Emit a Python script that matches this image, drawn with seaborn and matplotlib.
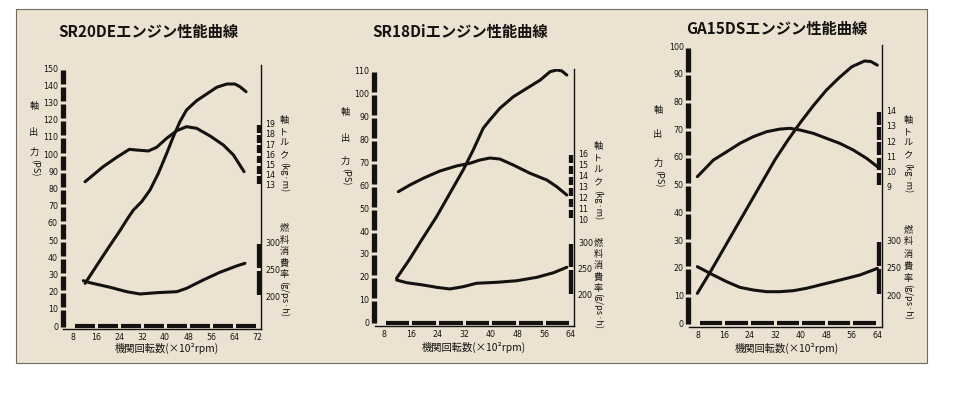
import matplotlib
matplotlib.use("Agg")
import matplotlib.pyplot as plt
from matplotlib import font_manager as fm
from matplotlib.patches import Rectangle
import pandas as pd
import seaborn as sns

# ---------------- data ----------------
titles = ["SR20DEエンジン性能曲線", "SR18Diエンジン性能曲線", "GA15DSエンジン性能曲線"]
x_label = "機関回転数(×10²rpm)"
left_label_chars = ["軸", "出", "力"]
left_label_unit = "(PS)"
torque_label_chars = ["軸", "ト", "ル", "ク"]
torque_label_unit = "(kg·m)"
fuel_label_chars = ["燃", "料", "消", "費", "率"]
fuel_label_unit = "(g/ps·h)"

# SR20DE
sr20_power_rpm = [12.2, 16.0, 20.0, 24.0, 27.0, 29.0, 31.9, 34.8, 37.7, 40.6, 42.9, 45.2, 47.5, 51.0, 54.5, 58.0, 61.5, 64.3, 66.1, 68.2]
sr20_power_ps = [24.8, 34.5, 44.7, 54.6, 62.5, 67.4, 72.3, 79.1, 88.8, 100.4, 110.1, 118.8, 125.6, 131.0, 134.9, 138.8, 140.7, 140.7, 139.1, 136.2]
sr20_torque_rpm = [12.2, 18.5, 23.2, 27.6, 30.2, 34.2, 37.1, 40.6, 44.1, 47.5, 51.0, 55.7, 60.3, 63.8, 67.5]
sr20_torque_kgm = [13.32, 14.79, 15.70, 16.48, 16.41, 16.32, 16.68, 17.56, 18.30, 18.69, 18.53, 17.78, 16.90, 15.93, 14.30]
sr20_fuel_rpm = [11.6, 13.9, 20.9, 26.7, 31.3, 37.1, 44.1, 47.5, 53.3, 59.1, 64.9, 67.8]
sr20_fuel_gpsh = [229.0, 225.3, 216.9, 208.8, 204.6, 207.0, 208.8, 215.0, 230.3, 244.4, 256.0, 260.9]
sr20_rpm_ticks = [8, 16, 24, 32, 40, 48, 56, 64, 72]
sr20_ps_ticks = list(range(0, 151, 10))
sr20_torque_ticks = [13, 14, 15, 16, 17, 18, 19]

# SR18Di
sr18_power_rpm = [11.7, 15.5, 19.2, 23.7, 27.7, 31.7, 34.7, 37.7, 39.7, 42.7, 46.7, 50.8, 54.8, 57.8, 59.8, 61.3, 62.8]
sr18_power_ps = [19.4, 27.5, 36.1, 46.3, 56.5, 66.7, 75.4, 84.9, 88.5, 93.6, 98.6, 102.3, 105.9, 109.6, 110.3, 109.9, 108.1]
sr18_torque_rpm = [12.2, 15.7, 19.7, 24.7, 29.7, 33.7, 36.7, 39.7, 42.7, 46.7, 51.8, 56.8, 59.8, 62.8]
sr18_torque_kgm = [12.51, 13.12, 13.73, 14.39, 14.85, 15.09, 15.39, 15.57, 15.48, 14.94, 14.18, 13.57, 12.96, 12.21]
sr18_fuel_rpm = [11.7, 14.7, 19.7, 23.7, 27.7, 31.7, 35.7, 41.8, 47.8, 53.8, 58.8, 62.8]
sr18_fuel_gpsh = [228.7, 223.5, 219.1, 214.7, 211.5, 215.9, 222.4, 224.3, 227.3, 233.8, 242.6, 253.0]
sr18_rpm_ticks = [8, 16, 24, 32, 40, 48, 56, 64]
sr18_ps_ticks = list(range(0, 111, 10))
sr18_torque_ticks = [10, 11, 12, 13, 14, 15, 16]

# GA15DS
ga15_power_rpm = [7.7, 12.0, 16.0, 20.0, 24.0, 28.0, 32.0, 36.0, 40.0, 44.0, 48.0, 52.0, 56.0, 60.0, 62.0, 64.0]
ga15_power_ps = [10.8, 19.0, 27.0, 35.0, 43.0, 51.0, 59.0, 66.0, 72.5, 78.5, 84.0, 88.5, 92.5, 94.6, 94.4, 93.1]
ga15_torque_rpm = [7.7, 12.7, 16.9, 21.0, 25.2, 29.4, 33.5, 36.7, 39.8, 44.0, 48.1, 52.3, 56.5, 60.7, 64.0]
ga15_torque_kgm = [9.66, 10.75, 11.30, 11.85, 12.29, 12.62, 12.79, 12.84, 12.73, 12.51, 12.18, 11.85, 11.41, 10.86, 10.32]
ga15_fuel_rpm = [7.7, 12.7, 16.9, 21.0, 25.2, 29.4, 33.5, 37.7, 41.8, 46.0, 50.2, 54.4, 58.5, 62.7, 64.0]
ga15_fuel_gpsh = [252.1, 237.1, 225.1, 215.0, 210.2, 207.2, 207.2, 209.0, 213.2, 219.2, 225.1, 231.1, 237.1, 246.1, 249.1]
ga15_rpm_ticks = [8, 16, 24, 32, 40, 48, 56, 64]
ga15_ps_ticks = list(range(0, 101, 10))
ga15_torque_ticks = [9, 10, 11, 12, 13, 14]

fuel_ticks = [200, 250, 300]

panels_data = [
    dict(title=titles[0], p=(sr20_power_rpm, sr20_power_ps), t=(sr20_torque_rpm, sr20_torque_kgm),
         f=(sr20_fuel_rpm, sr20_fuel_gpsh), xt=sr20_rpm_ticks, pt=sr20_ps_ticks, tt=sr20_torque_ticks),
    dict(title=titles[1], p=(sr18_power_rpm, sr18_power_ps), t=(sr18_torque_rpm, sr18_torque_kgm),
         f=(sr18_fuel_rpm, sr18_fuel_gpsh), xt=sr18_rpm_ticks, pt=sr18_ps_ticks, tt=sr18_torque_ticks),
    dict(title=titles[2], p=(ga15_power_rpm, ga15_power_ps), t=(ga15_torque_rpm, ga15_torque_kgm),
         f=(ga15_fuel_rpm, ga15_fuel_gpsh), xt=ga15_rpm_ticks, pt=ga15_ps_ticks, tt=ga15_torque_ticks),
]

# ---------------- layout (pixels) ----------------
W, H = 960, 399
layouts = [
    dict(box=(63, 65, 261, 328.5), xa=((8, 73), (72, 257)), pa=((0, 326), (150, 68)),
         ta=((13, 185), (19, 123.5)), fa=((200, 296.5), (300, 242)),
         title_xy=(148, 32), xlabel_xy=(167, 348),
         lx=34, ly=[107, 133, 152], lu=168,
         rx=284, tly=[120, 131.7, 143.3, 154.5], tlu=177, fly=[228, 240, 251.7, 263.3, 275], flu=299),
    dict(box=(374.5, 69, 573.5, 325.5), xa=((8, 384.3), (64, 570.8)), pa=((0, 322.7), (110, 70.7)),
         ta=((10, 219.3), (16, 153.3)), fa=((200, 295), (300, 242.7)),
         title_xy=(460, 32), xlabel_xy=(474, 347),
         lx=345, ly=[113, 138, 161], lu=177,
         rx=598, tly=[146, 158, 170, 182], tlu=205, fly=[242.3, 254, 265.7, 277, 288.3], flu=311),
    dict(box=(688.7, 45, 881.7, 327), xa=((8, 698.3), (64, 877.3)), pa=((0, 323.3), (100, 46)),
         ta=((9, 186.7), (14, 110.7)), fa=((200, 295.7), (300, 240)),
         title_xy=(777, 29), xlabel_xy=(787, 348),
         lx=658, ly=[110, 134, 163], lu=179,
         rx=908, tly=[120, 131.7, 143.3, 155], tlu=178, fly=[230, 241.7, 255, 266.7, 278.3], flu=302),
]

INK = "#141210"
BEIGE = "#ECE2D1"

sns.set_theme(style="white")
JP = ["Noto Sans CJK JP", "DejaVu Sans"]

# narrow face for the numerals, if one is installed
_fonts = fm.fontManager.ttflist
_names = {f.name for f in _fonts}
if "Liberation Sans Narrow" in _names:
    NUM, NUM_STRETCH, NUM_SIZE = ["Liberation Sans Narrow"], "normal", 6.9
elif any(f.name == "DejaVu Sans" and str(f.stretch) in ("condensed", "semi-condensed") for f in _fonts):
    NUM, NUM_STRETCH, NUM_SIZE = ["DejaVu Sans"], "condensed", 6.3
else:
    NUM, NUM_STRETCH, NUM_SIZE = ["Liberation Sans", "DejaVu Sans"], "normal", 6.2
plt.rcParams["font.family"] = NUM + ["DejaVu Sans"]

fig = plt.figure(figsize=(W / 100, H / 100), dpi=100)
fig.patch.set_facecolor("white")
bg = Rectangle((16 / W, 1 - 363 / H), (927 - 16) / W, (363 - 9) / H,
               transform=fig.transFigure, facecolor=BEIGE,
               edgecolor="#6f6a62", linewidth=0.8, zorder=-10)
fig.patches.append(bg)


def lim(anchor, pa, pb):
    (v0, p0), (v1, p1) = anchor
    k = (v1 - v0) / (p1 - p0)
    return (v0 + (pa - p0) * k, v0 + (pb - p0) * k)


def fx(x):
    return x / W


def fy(y):
    return 1 - y / H


for d, L in zip(panels_data, layouts):
    l, t, r, b = L["box"]
    ax = fig.add_axes([l / W, 1 - b / H, (r - l) / W, (b - t) / H])
    ax.set_zorder(1)
    ax.set_facecolor("none")
    xl = lim(L["xa"], l, r)
    yl = lim(L["pa"], b, t)
    ax.set_xlim(*xl)
    ax.set_ylim(*yl)
    ax_t = ax.twinx()
    ax_t.set_zorder(2)
    ax_t.set_ylim(*lim(L["ta"], b, t))
    ax_f = ax.twinx()
    ax_f.set_zorder(3)
    ax_f.set_ylim(*lim(L["fa"], b, t))

    xppu = (r - l) / (xl[1] - xl[0])
    yppu = (b - t) / (yl[1] - yl[0])
    tppu = (b - t) / (ax_t.get_ylim()[1] - ax_t.get_ylim()[0])
    fppu = (b - t) / (ax_f.get_ylim()[1] - ax_f.get_ylim()[0])

    # curves
    sns.lineplot(x=d["p"][0], y=d["p"][1], ax=ax, color=INK, lw=2.2, estimator=None, sort=False)
    sns.lineplot(x=d["t"][0], y=d["t"][1], ax=ax_t, color=INK, lw=2.2, estimator=None, sort=False)
    sns.lineplot(x=d["f"][0], y=d["f"][1], ax=ax_f, color=INK, lw=2.2, estimator=None, sort=False)
    for a in (ax, ax_t, ax_f):
        for ln in a.get_lines():
            ln.set_solid_capstyle("round")
            ln.set_solid_joinstyle("round")

    # spines
    for a in (ax, ax_t, ax_f):
        for s in a.spines.values():
            s.set_visible(False)
    ax.spines["bottom"].set_visible(True)
    ax.spines["right"].set_visible(True)
    ax.spines["bottom"].set_linewidth(1.0)
    ax.spines["right"].set_linewidth(1.0)
    ax.spines["bottom"].set_color(INK)
    ax.spines["right"].set_color(INK)

    # ticks
    ax.set_xticks(d["xt"])
    ax.set_yticks(d["pt"])
    ax.tick_params(axis="both", length=0, labelsize=NUM_SIZE, colors=INK)
    ax.tick_params(axis="y", pad=3.6)
    ax.tick_params(axis="x", pad=3.0)
    ax.set_xlabel("")
    ax.set_ylabel("")
    ax_t.set_yticks(d["tt"])
    ax_t.set_ylabel("")
    ax_t.tick_params(axis="y", length=0, labelsize=NUM_SIZE, pad=3.2, colors=INK)
    ax_f.set_yticks(fuel_ticks)
    ax_f.set_ylabel("")
    ax_f.tick_params(axis="y", length=0, labelsize=NUM_SIZE, pad=3.2, colors=INK)
    for a in (ax, ax_t, ax_f):
        for lab in a.get_xticklabels() + a.get_yticklabels():
            lab.set_family(NUM)
            lab.set_fontstretch(NUM_STRETCH)

    # thick dashed axis bars
    g = 3.0 / yppu
    pt = d["pt"]
    for v0, v1 in zip(pt[:-1], pt[1:]):
        lo = v0 + g / 2 if v0 > pt[0] else v0 - 0.5 / yppu
        ax.vlines(xl[0] - 0.5 / xppu, lo, v1 - g / 2, color=INK, lw=3.8, clip_on=False, zorder=5)
    g = 3.0 / xppu
    xt = d["xt"]
    for v0, v1 in zip(xt[:-1], xt[1:]):
        ax.hlines(0, v0 + g / 2, v1 - g / 2, color=INK, lw=3.0, clip_on=False, zorder=5)
    xr = xl[1] - 2.3 / xppu
    g = 2.5 / tppu
    tt = d["tt"]
    for v0, v1 in zip(tt[:-1], tt[1:]):
        ax_t.vlines(xr, v0 + g / 2, v1 - g / 2, color=INK, lw=3.1, clip_on=False, zorder=5)
    g = 3.0 / fppu
    for v0, v1 in zip(fuel_ticks[:-1], fuel_ticks[1:]):
        ax_f.vlines(xr, v0 + g / 2, v1 - g / 2, color=INK, lw=3.1, clip_on=False, zorder=5)

    # titles and labels
    fig.text(fx(L["title_xy"][0]), fy(L["title_xy"][1]), d["title"], ha="center", va="center",
             fontsize=11, fontweight="bold", family=JP, color=INK)
    fig.text(fx(L["xlabel_xy"][0]), fy(L["xlabel_xy"][1]), x_label, ha="center", va="center",
             fontsize=7.4, family=JP, color=INK)
    cs = 6.6
    for ch, yy in zip(left_label_chars, L["ly"]):
        fig.text(fx(L["lx"]), fy(yy), ch, ha="center", va="center", fontsize=cs, family=JP, color=INK)
    fig.text(fx(L["lx"]), fy(L["lu"]), left_label_unit, ha="center", va="center", rotation=-90,
             fontsize=cs, family=JP, color=INK)
    for ch, yy in zip(torque_label_chars, L["tly"]):
        fig.text(fx(L["rx"]), fy(yy), ch, ha="center", va="center", fontsize=cs, family=JP, color=INK)
    fig.text(fx(L["rx"]), fy(L["tlu"]), torque_label_unit, ha="center", va="center", rotation=-90,
             fontsize=cs, family=JP, color=INK)
    for ch, yy in zip(fuel_label_chars, L["fly"]):
        fig.text(fx(L["rx"]), fy(yy), ch, ha="center", va="center", fontsize=cs, family=JP, color=INK)
    fig.text(fx(L["rx"]), fy(L["flu"]), fuel_label_unit, ha="center", va="center", rotation=-90,
             fontsize=cs, family=JP, color=INK)

fig.savefig("out.png", dpi=100, facecolor=fig.get_facecolor())
